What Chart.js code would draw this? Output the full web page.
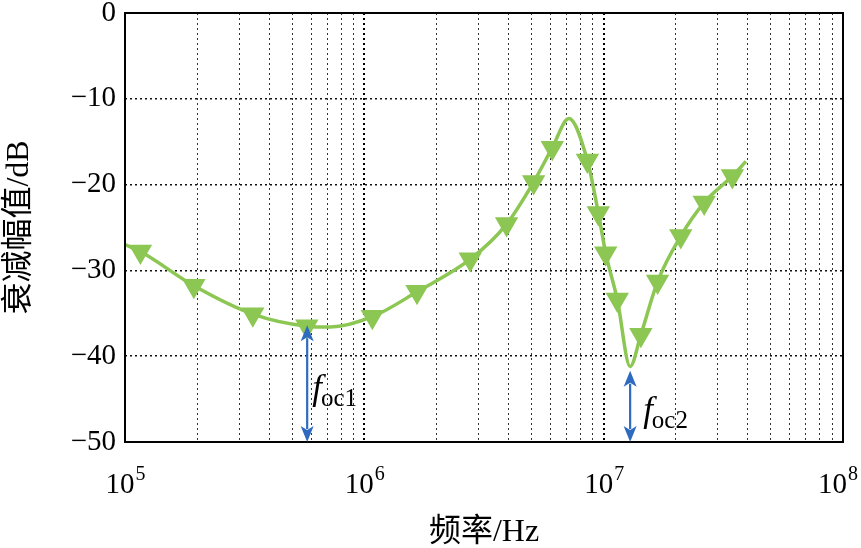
<!DOCTYPE html>
<html>
<head>
<meta charset="utf-8">
<script src="https://cdn.jsdelivr.net/npm/chart.js@4/dist/chart.umd.min.js"></script>
<style>
  html, body { margin: 0; padding: 0; background: #fff; }
  #wrap { width: 861px; height: 548px; }
</style>
</head>
<body>
<div id="wrap"><canvas id="myChart"></canvas></div>
<script>
// curve points (Hz, dB)
const freqs = [1.0e5, 1.16e5, 1.94e5, 3.42e5, 5.75e5, 7.2e5, 1.08e6, 1.66e6, 2.77e6, 3.93e6,
               5.1e6, 6.1e6, 7.16e6, 8.55e6, 9.5e6, 1.02e7, 1.14e7, 1.29e7, 1.43e7, 1.68e7,
               2.1e7, 2.63e7, 3.45e7, 3.93e7];
const atten = [-27.0, -27.8, -31.8, -35.1, -36.5, -36.6, -35.4, -32.5, -28.7, -24.6,
               -19.7, -15.7, -12.3, -17.2, -23.3, -28.0, -33.4, -41.2, -37.5, -31.3,
               -26.0, -22.1, -19.0, -17.3];
// 1 = a triangle marker sits on this point
const markers = [0, 1, 1, 1, 1, 0, 1, 1, 1, 1,
                 1, 1, 0, 1, 1, 1, 1, 0, 1, 1,
                 1, 1, 1, 0];

const decades = [5, 6, 7, 8];
const yTicks = [0, -10, -20, -30, -40, -50];

// f_oc arrows
const ocFreqs = [5.77e5, 1.29e7];
const ocTops = [-36.4, -41.7];
const ocNames = ["oc1", "oc2"];

const green = "#8cc653";
const blue = "#2e6bc0";
const serif = '"Liberation Serif", "Times New Roman", serif';
const cjk = '"Liberation Serif", "Noto Sans CJK SC", serif';

Chart.defaults.font.family = serif;
Chart.defaults.color = "#000";

const logTicks = [];
decades.forEach((d, i) => {
    for (let m = 1; m <= 9; m++) {
        if (i === decades.length - 1 && m > 1) break;
        logTicks.push({ value: m * Math.pow(10, d) });
    }
});

function isDecade(v) {
    return Math.abs(Math.log10(v) - Math.round(Math.log10(v))) < 1e-6;
}

const extras = {
    id: "extras",
    afterDraw(chart) {
        const { ctx, chartArea: a, scales: { x, y } } = chart;
        ctx.save();
        // frame
        ctx.strokeStyle = "#000";
        ctx.lineWidth = 2;
        ctx.strokeRect(a.left, a.top, a.right - a.left, a.bottom - a.top);

        // decade labels 10^n
        ctx.fillStyle = "#000";
        ctx.textBaseline = "alphabetic";
        ctx.textAlign = "left";
        decades.forEach((d) => {
            const px = x.getPixelForValue(Math.pow(10, d));
            ctx.font = "29px " + serif;
            const w1 = ctx.measureText("10").width;
            ctx.font = "20px " + serif;
            const w2 = ctx.measureText(String(d)).width;
            let left = px - (w1 + w2) / 2;
            if (left + w1 + w2 + 1 > chart.width - 3) left = chart.width - 3 - w1 - w2 - 1;
            ctx.font = "29px " + serif;
            ctx.fillText("10", left, a.bottom + 51);
            ctx.font = "20px " + serif;
            ctx.fillText(String(d), left + w1 + 1, a.bottom + 38);
        });

        // double arrows and f_oc labels
        const labelOff = [{ dx: 5, dy: -43 }, { dx: 13, dy: -21 }];
        ocFreqs.forEach((f, i) => {
            const px = x.getPixelForValue(f);
            const top = y.getPixelForValue(ocTops[i]);
            const bot = a.bottom;
            const hl = 16, hw = 6.5;
            ctx.strokeStyle = blue;
            ctx.fillStyle = blue;
            ctx.lineWidth = 2.2;
            ctx.beginPath();
            ctx.moveTo(px, top + hl - 3);
            ctx.lineTo(px, bot - hl + 3);
            ctx.stroke();
            ctx.beginPath();
            ctx.moveTo(px, top);
            ctx.lineTo(px - hw, top + hl);
            ctx.lineTo(px, top + hl - 4);
            ctx.lineTo(px + hw, top + hl);
            ctx.closePath();
            ctx.fill();
            ctx.beginPath();
            ctx.moveTo(px, bot);
            ctx.lineTo(px - hw, bot - hl);
            ctx.lineTo(px, bot - hl + 4);
            ctx.lineTo(px + hw, bot - hl);
            ctx.closePath();
            ctx.fill();

            const lx = px + labelOff[i].dx;
            const ly = bot + labelOff[i].dy;
            ctx.fillStyle = "#000";
            ctx.font = "italic 35px " + serif;
            ctx.fillText("f", lx, ly);
            const fw = ctx.measureText("f").width;
            ctx.font = "25px " + serif;
            ctx.fillText(ocNames[i], lx + fw - 1, ly + 7);
        });
        ctx.restore();
    }
};

const ctx = document.getElementById("myChart");

new Chart(ctx, {
    type: "line",
    data: {
        datasets: [
            {
                label: "衰减幅值",
                data: freqs.map((f, i) => ({ x: f, y: atten[i] })),
                borderColor: green,
                backgroundColor: green,
                borderWidth: 3.5,
                cubicInterpolationMode: "monotone",
                pointStyle: "triangle",
                pointRotation: 180,
                pointRadius: (c) => (markers[c.dataIndex] ? 13.5 : 0),
                pointBorderWidth: 0,
                pointHoverRadius: 0,
            },
        ],
    },
    options: {
        responsive: true,
        maintainAspectRatio: false,
        animation: false,
        events: [],
        layout: { padding: { top: 13, right: 18, left: 0, bottom: 0 } },
        plugins: {
            legend: { display: false },
            tooltip: { enabled: false },
        },
        scales: {
            x: {
                type: "logarithmic",
                min: 1e5,
                max: 1e8,
                afterBuildTicks: (scale) => {
                    scale.ticks = logTicks.map((t) => ({ value: t.value }));
                },
                afterFit: (scale) => {
                    scale.height = 106;
                    scale.paddingLeft = 0;
                    scale.paddingRight = 0;
                },
                ticks: { display: false },
                grid: {
                    drawTicks: false,
                    color: (c) => (c.tick && isDecade(c.tick.value) ? "#000" : "#333"),
                    lineWidth: (c) => (c.tick && isDecade(c.tick.value) ? 2 : 1),
                },
                border: { display: false, dash: [2, 3] },
                title: {
                    display: true,
                    text: "频率/Hz",
                    font: { family: cjk, size: 32 },
                    padding: { top: 0, bottom: -4 },
                },
            },
            y: {
                min: -50,
                max: 0,
                afterBuildTicks: (scale) => {
                    scale.ticks = yTicks.map((v) => ({ value: v }));
                },
                afterFit: (scale) => {
                    scale.width = 125;
                    scale.paddingTop = 0;
                    scale.paddingBottom = 0;
                },
                ticks: {
                    padding: 9,
                    font: { size: 29 },
                    callback: (v) => String(v).replace("-", "\u2212"),
                },
                grid: { drawTicks: false, color: "#111", lineWidth: 1.5 },
                border: { display: false, dash: [2, 3] },
                title: {
                    display: true,
                    text: "衰减幅值/dB",
                    font: { family: cjk, size: 32 },
                    padding: { top: 0, bottom: 0 },
                },
            },
        },
    },
    plugins: [extras],
});
</script>
</body>
</html>
